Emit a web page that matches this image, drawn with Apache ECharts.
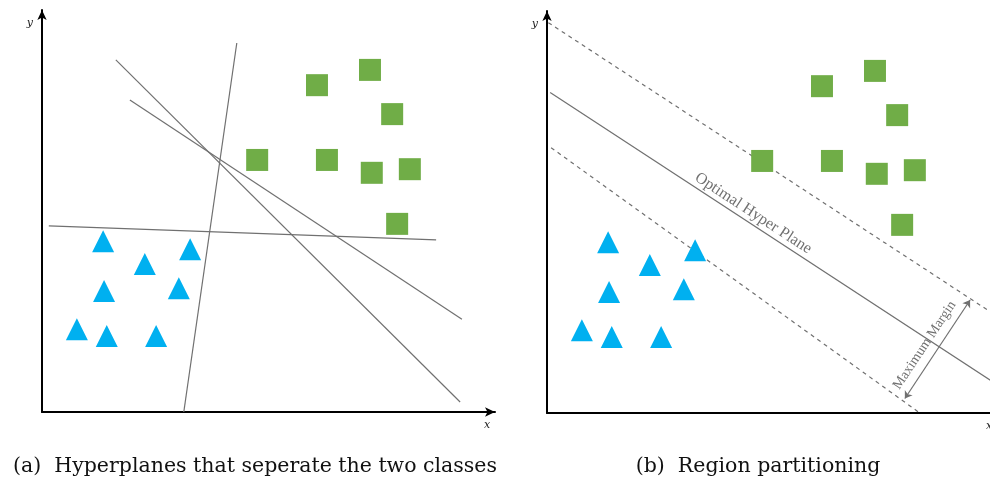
<!DOCTYPE html>
<html>
<head>
<meta charset="utf-8">
<script src="https://cdn.jsdelivr.net/npm/echarts@6/dist/echarts.min.js"></script>
<style>html,body{margin:0;padding:0;background:#fff}#c{width:990px;height:481px}</style>
</head>
<body>
<div id="c"></div>
<script>
// ---- data (shared data units, 0..10 on both axes) ----
const squaresX   = [6.07, 7.24, 7.73, 4.75, 6.29, 7.28, 8.12, 7.84];
const squaresY   = [8.13, 8.51, 7.41, 6.27, 6.27, 5.95, 6.04, 4.68];
const trianglesX = [1.35, 2.27, 3.27, 1.37, 3.02, 0.77, 1.43, 2.52];
const trianglesY = [4.25, 3.68, 4.05, 3.01, 3.08, 2.06, 1.89, 1.89];

// panel (a): candidate hyperplanes, each [start, end]
const hyperplanes = [
  [[4.30, 9.18], [3.13, 0.00]],
  [[1.63, 8.76], [9.23, 0.25]],
  [[1.94, 7.76], [9.27, 2.31]],
  [[0.15, 4.63], [8.70, 4.28]]
];
// panel (b)
const optimalPlane = [[0.07, 7.97], [10.00, 0.66]];
const marginUpper  = [[0.03, 9.71], [10.00, 2.36]];
const marginLower  = [[0.09, 6.60], [8.23, 0.00]];
const marginArrow  = [[7.90, 0.36], [9.34, 2.81]];

const captionA = '(a)  Hyperplanes that seperate the two classes';
const captionB = '(b)  Region partitioning';
const optimalLabel = 'Optimal Hyper Plane';
const marginLabel = 'Maximum Margin';

// ---- styles ----
const SQ = '#70AD47', TRI = '#00B0F0', GRAY = '#707070';
const SERIF = "'DejaVu Serif', 'Liberation Serif', serif";
const TIMES = "'Liberation Serif', 'DejaVu Serif', serif";

function zip(xs, ys) { return xs.map((x, i) => [x, ys[i]]); }

function axisPair(idx) {
  const axisLine = { show: true, onZero: true, lineStyle: { color: '#000', width: 2 },
                     symbol: ['none', 'arrow'], symbolSize: [7, 10] };
  return {
    x: { type: 'value', gridIndex: idx, min: 0, max: 10, axisLine,
         axisTick: { show: false }, axisLabel: { show: false }, splitLine: { show: false },
         name: 'x', nameLocation: 'end', nameGap: idx === 0 ? -8 : -11,
         nameTextStyle: { fontFamily: SERIF, fontStyle: 'italic', fontSize: 11, color: '#222',
                          align: 'center', verticalAlign: 'top', padding: [8, 0, 0, 0] } },
    y: { type: 'value', gridIndex: idx, min: 0, max: 10, axisLine,
         axisTick: { show: false }, axisLabel: { show: false }, splitLine: { show: false },
         name: 'y', nameLocation: 'end', nameGap: -19,
         nameTextStyle: { fontFamily: SERIF, fontStyle: 'italic', fontSize: 11, color: '#222',
                          align: 'right', verticalAlign: 'bottom', padding: [0, 9, 0, 0] } }
  };
}
const a0 = axisPair(0), a1 = axisPair(1);

function scatterPair(idx) {
  return [
    { type: 'scatter', xAxisIndex: idx, yAxisIndex: idx, symbol: 'rect', symbolSize: 22,
      itemStyle: { color: SQ, opacity: 1 }, data: zip(squaresX, squaresY), z: 3, silent: true },
    { type: 'scatter', xAxisIndex: idx, yAxisIndex: idx, symbol: 'triangle', symbolSize: [22, 22],
      itemStyle: { color: TRI, opacity: 1 }, data: zip(trianglesX, trianglesY), z: 3, silent: true }
  ];
}

const option = {
  animation: false,
  backgroundColor: '#fff',
  title: [
    { text: captionA, left: 250, top: 451, textAlign: 'center',
      textStyle: { fontFamily: SERIF, fontWeight: 'normal', fontSize: 20.5, color: '#111' } },
    { text: captionB, left: 753, top: 451, textAlign: 'center',
      textStyle: { fontFamily: SERIF, fontWeight: 'normal', fontSize: 20.5, color: '#111' } }
  ],
  grid: [
    { left: 42, top: 10, width: 453, height: 402, outerBoundsMode: 'none', containLabel: false },
    { left: 547, top: 11, width: 453, height: 402, outerBoundsMode: 'none', containLabel: false }
  ],
  xAxis: [a0.x, a1.x],
  yAxis: [a0.y, a1.y],
  series: [
    { type: 'lines', coordinateSystem: 'cartesian2d', xAxisIndex: 0, yAxisIndex: 0,
      lineStyle: { color: GRAY, width: 1.2, opacity: 1 }, z: 2, silent: true,
      data: hyperplanes.map(c => ({ coords: c })) },
    ...scatterPair(0),
    { type: 'lines', coordinateSystem: 'cartesian2d', xAxisIndex: 1, yAxisIndex: 1,
      lineStyle: { color: GRAY, width: 1.2, opacity: 1 }, z: 2, silent: true,
      data: [{ coords: optimalPlane,
               label: { show: true, position: 'insideStartTop', distance: [168, 2],
                        formatter: optimalLabel, fontFamily: TIMES, fontSize: 16, color: '#707070' } }] },
    { type: 'lines', coordinateSystem: 'cartesian2d', xAxisIndex: 1, yAxisIndex: 1,
      lineStyle: { color: GRAY, width: 1.2, opacity: 1, type: [4, 4] }, z: 2, silent: true,
      data: [{ coords: marginUpper }, { coords: marginLower }] },
    { type: 'lines', coordinateSystem: 'cartesian2d', xAxisIndex: 1, yAxisIndex: 1,
      symbol: ['arrow', 'arrow'], symbolSize: 7,
      lineStyle: { color: GRAY, width: 1.2, opacity: 1 }, z: 2, silent: true,
      data: [{ coords: marginArrow,
               label: { show: true, position: 'insideStartTop', distance: [4, 6],
                        formatter: marginLabel, fontFamily: TIMES, fontSize: 14, color: '#707070' } }] },
    ...scatterPair(1)
  ]
};

const chart = echarts.init(document.getElementById('c'), null, { renderer: 'canvas' });
chart.setOption(option);
</script>
</body>
</html>
